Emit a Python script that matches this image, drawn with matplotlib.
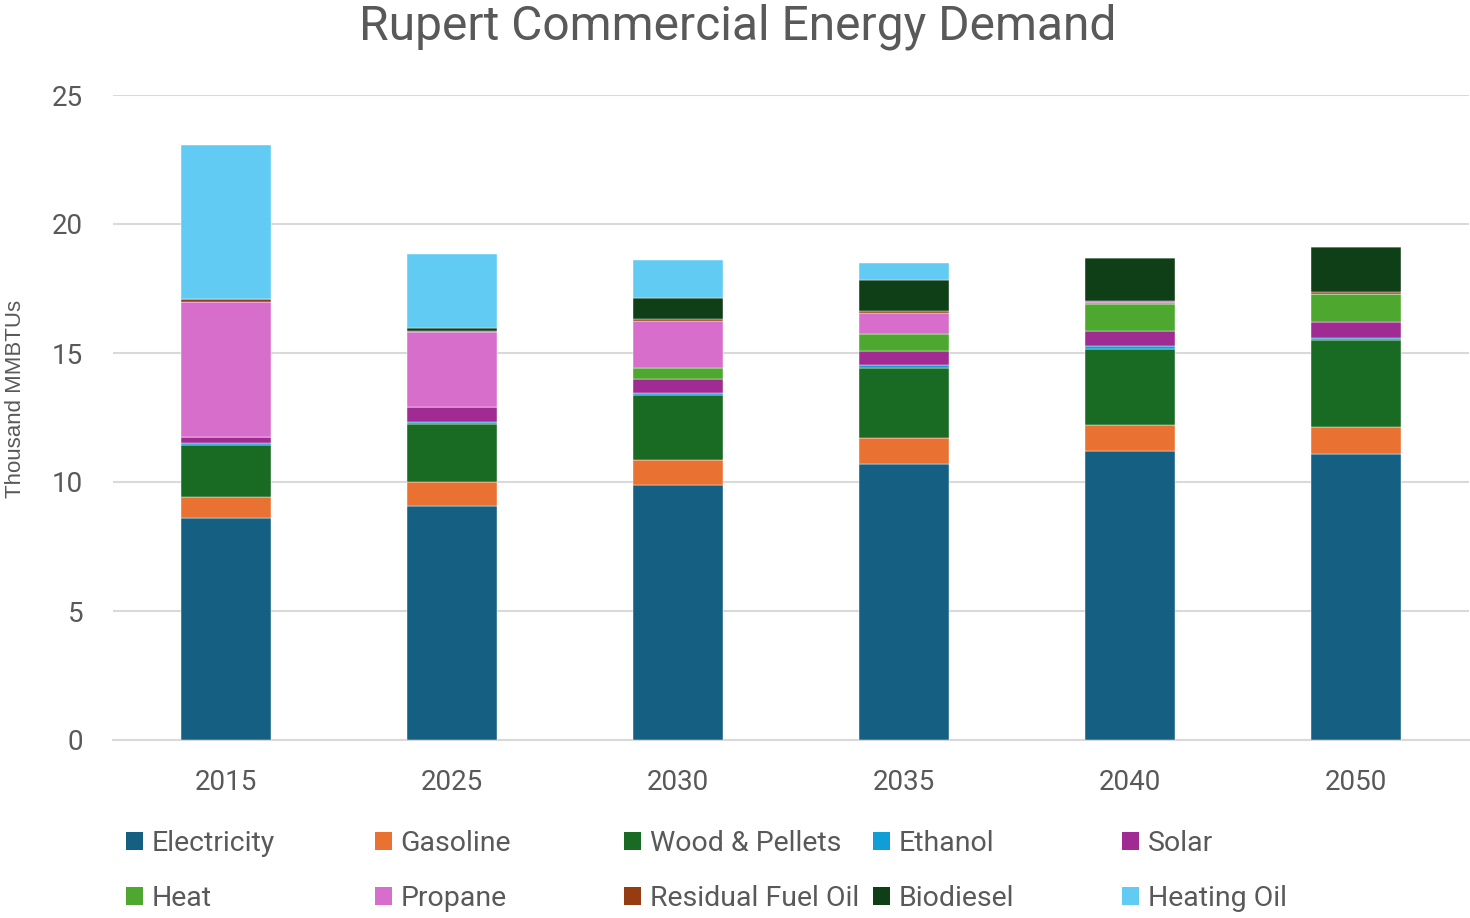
import matplotlib
matplotlib.use("Agg")
import matplotlib.pyplot as plt
from matplotlib.patches import Patch
import numpy as np

years = ["2015", "2025", "2030", "2035", "2040", "2050"]
series_names = ["Electricity", "Gasoline", "Wood & Pellets", "Ethanol", "Solar",
                "Heat", "Propane", "Residual Fuel Oil", "Biodiesel", "Heating Oil"]

electricity = [8.59, 9.08, 9.90, 10.71, 11.21, 11.07]
gasoline    = [0.83, 0.92, 0.95, 0.98, 1.00, 1.05]
wood        = [2.01, 2.26, 2.51, 2.74, 2.96, 3.39]
ethanol     = [0.07, 0.08, 0.08, 0.09, 0.10, 0.09]
solar       = [0.23, 0.55, 0.56, 0.57, 0.58, 0.61]
heat        = [0.00, 0.00, 0.42, 0.65, 1.06, 1.08]
propane     = [5.25, 2.92, 1.82, 0.81, 0.06, 0.00]
residual    = [0.11, 0.05, 0.06, 0.08, 0.03, 0.07]
biodiesel   = [0.00, 0.12, 0.82, 1.21, 1.68, 1.74]
heating_oil = [5.97, 2.87, 1.50, 0.64, 0.00, 0.00]

colors = ["#156082", "#E97132", "#196B24", "#0F9ED5", "#A02B93",
          "#4EA72E", "#D86ECC", "#963C11", "#0F3F17", "#61CBF3"]

data = [electricity, gasoline, wood, ethanol, solar, heat, propane,
        residual, biodiesel, heating_oil]

W, H = 1470, 918
fig = plt.figure(figsize=(W / 100, H / 100), dpi=100)
ax = fig.add_axes([113 / W, 1 - 740 / H, (1469 - 113) / W, (740 - 95) / H])

text_color = "#595959"
font = "Roboto"

x = np.arange(len(years))
bottom = np.zeros(len(years))
handles = []
for name, vals, c in zip(series_names, data, colors):
    vals = np.array(vals)
    ax.bar(x, vals, width=0.4, bottom=bottom, color=c, label=name, zorder=3,
           edgecolor="white", linewidth=0.3)
    bottom += vals
    handles.append(Patch(facecolor=c, label=name))

ax.set_xlim(-0.5, len(years) - 0.5)
ax.set_ylim(0, 25)
ax.set_yticks([0, 5, 10, 15, 20, 25])
ax.set_xticks(x)
ax.set_xticklabels(years)
ax.grid(axis="y", color="#D9D9D9", linewidth=1.5, zorder=0)
for s in ["top", "right", "left"]:
    ax.spines[s].set_visible(False)
ax.spines["bottom"].set_color("#D9D9D9")
ax.spines["bottom"].set_linewidth(1.5)
ax.tick_params(axis="both", length=0, labelsize=20, labelcolor=text_color)
ax.tick_params(axis="y", pad=21.5)
ax.tick_params(axis="x", pad=21)
for lab in ax.get_xticklabels() + ax.get_yticklabels():
    lab.set_fontfamily(font)

fig.text(16 / W, 1 - 399 / H, "Thousand MMBTUs", rotation=90, ha="center",
         va="center", fontsize=16, color=text_color, family="Liberation Sans")

fig.text(0.5 * (360 + 1115) / W, 1 - 27 / H, "Rupert Commercial Energy Demand",
         ha="center", va="center", fontsize=34.5, color=text_color, family=font)

# legend: 5 columns, 2 rows, row-major order
col_x = [126, 375, 624, 873, 1122]
for col in range(5):
    leg = fig.legend(handles=[handles[col], handles[col + 5]], loc="upper left",
                     bbox_to_anchor=(col_x[col] / W, 1 - 830 / H),
                     frameon=False, borderpad=0, borderaxespad=0,
                     handlelength=0.6, handleheight=0.6, handletextpad=0.3,
                     labelspacing=1.0, prop={"family": font, "size": 20.5})
    for t in leg.get_texts():
        t.set_color(text_color)

fig.savefig("out.png", dpi=100)
